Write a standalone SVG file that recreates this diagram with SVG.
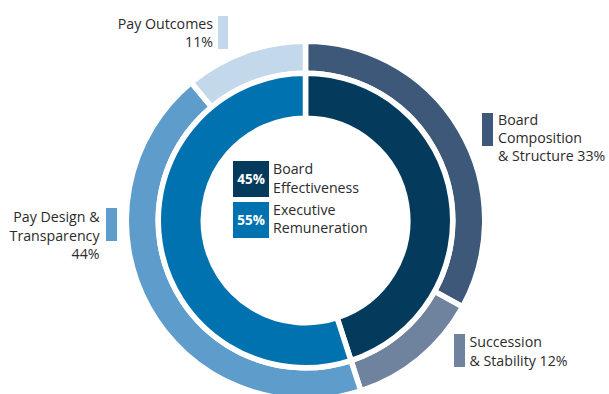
<svg xmlns="http://www.w3.org/2000/svg" width="609" height="394" viewBox="0 0 609 394">
<style>
.seg{stroke:#ffffff;stroke-width:5.5;stroke-linejoin:round}
.lbl{font-family:"Open Sans","Liberation Sans",sans-serif;font-size:14.2px;fill:#2b2b2b}
.end{text-anchor:end}
.pct{font-family:"Open Sans","Liberation Sans",sans-serif;font-size:13.5px;font-weight:bold;fill:#ffffff;text-anchor:middle}
</style>
<rect width="609" height="394" fill="#ffffff"/>
<g id="outer-ring">
<path id="board-composition" class="seg" fill="#3d5878" d="M305.5 41.25 A179.25 179.25 0 0 1 462.58 306.85 L434.54 291.44 A147.25 147.25 0 0 0 305.5 73.25 Z"/>
<path id="succession" class="seg" fill="#6f829e" d="M462.58 306.85 A179.25 179.25 0 0 1 360.89 390.98 L351 360.54 A147.25 147.25 0 0 0 434.54 291.44 Z"/>
<path id="pay-design" class="seg" fill="#5e9dcb" d="M360.89 390.98 A179.25 179.25 0 0 1 191.24 82.39 L211.64 107.04 A147.25 147.25 0 0 0 351 360.54 Z"/>
<path id="pay-outcomes" class="seg" fill="#c4d8ec" d="M191.24 82.39 A179.25 179.25 0 0 1 305.5 41.25 L305.5 73.25 A147.25 147.25 0 0 0 211.64 107.04 Z"/>
</g>
<g id="inner-ring">
<path id="board-effectiveness" class="seg" fill="#043b5c" d="M305.5 73.25 A147.25 147.25 0 0 1 351 360.54 L337.1 317.75 A102.25 102.25 0 0 0 305.5 118.25 Z"/>
<path id="executive-remuneration" class="seg" fill="#0072b0" d="M351 360.54 A147.25 147.25 0 1 1 305.5 73.25 L305.5 118.25 A102.25 102.25 0 1 0 337.1 317.75 Z"/>
</g>
<g id="legend-board-effectiveness">
<rect x="233" y="161" width="36" height="36" fill="#043b5c"/>
<text class="pct" x="251" y="184">45%</text>
<text class="lbl" x="273" y="174">Board</text>
<text class="lbl" x="273" y="192.5">Effectiveness</text>
</g>
<g id="legend-executive-remuneration">
<rect x="233" y="202" width="36" height="36" fill="#0072b0"/>
<text class="pct" x="251" y="225">55%</text>
<text class="lbl" x="273" y="215">Executive</text>
<text class="lbl" x="273" y="233">Remuneration</text>
</g>
<g id="label-pay-outcomes">
<rect x="218" y="16" width="10" height="33" fill="#c4d8ec"/>
<text class="lbl end" x="213" y="28.5">Pay Outcomes</text>
<text class="lbl end" x="213" y="46.5">11%</text>
</g>
<g id="label-board-composition">
<rect x="482" y="113" width="11" height="33" fill="#3d5878"/>
<text class="lbl" x="498" y="124.5">Board</text>
<text class="lbl" x="498" y="142.5">Composition</text>
<text class="lbl" x="498" y="161">&amp; Structure 33%</text>
</g>
<g id="label-pay-design">
<rect x="106" y="208" width="11" height="33" fill="#5e9dcb"/>
<text class="lbl end" x="99.5" y="222">Pay Design &amp;</text>
<text class="lbl end" x="99.5" y="240.5">Transparency</text>
<text class="lbl end" x="99.5" y="258.5">44%</text>
</g>
<g id="label-succession">
<rect x="454" y="334" width="11" height="33" fill="#6f829e"/>
<text class="lbl" x="469.5" y="347">Succession</text>
<text class="lbl" x="469.5" y="365.5">&amp; Stability 12%</text>
</g>
<g id="connectors"></g>
</svg>
